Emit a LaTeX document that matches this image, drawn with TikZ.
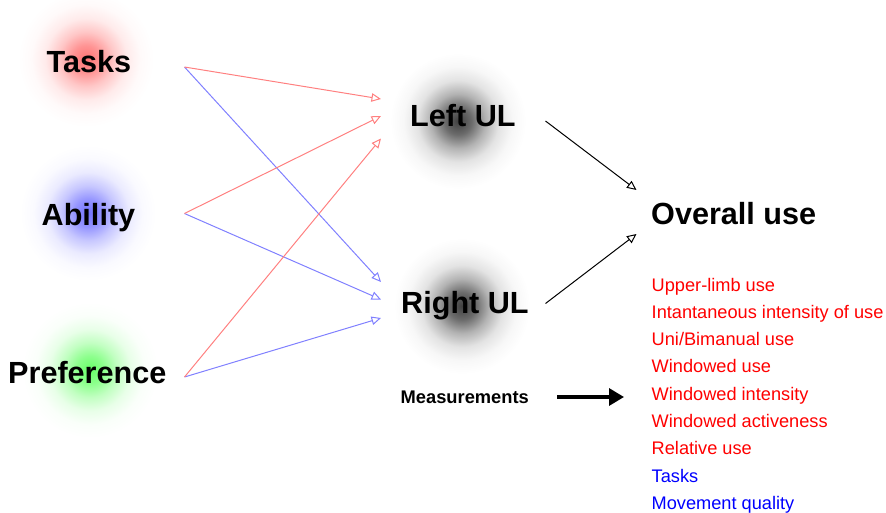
\documentclass[tikz,border=0pt]{standalone}
\usepackage{fontspec}
\setmainfont{Liberation Sans}
\usetikzlibrary{arrows.meta}
\pgfdeclareradialshading{glowred}{\pgfpoint{0bp}{0bp}}{color(0bp)=(red!55!white); color(5bp)=(red!42!white); color(10bp)=(red!22!white); color(15bp)=(red!8!white); color(20bp)=(red!2!white); color(25bp)=(white); color(50bp)=(white)}
\pgfdeclareradialshading{glowblue}{\pgfpoint{0bp}{0bp}}{color(0bp)=(blue!55!white); color(5bp)=(blue!42!white); color(10bp)=(blue!22!white); color(15bp)=(blue!8!white); color(20bp)=(blue!2!white); color(25bp)=(white); color(50bp)=(white)}
\pgfdeclareradialshading{glowgreen}{\pgfpoint{0bp}{0bp}}{color(0bp)=(green!60!white); color(5bp)=(green!45!white); color(10bp)=(green!24!white); color(15bp)=(green!9!white); color(20bp)=(green!2!white); color(25bp)=(white); color(50bp)=(white)}
\pgfdeclareradialshading{glowgray}{\pgfpoint{0bp}{0bp}}{color(0bp)=(black!75!white); color(5bp)=(black!58!white); color(10bp)=(black!30!white); color(15bp)=(black!11!white); color(20bp)=(black!3!white); color(25bp)=(white); color(50bp)=(white)}
\definecolor{linkred}{RGB}{255,128,128}
\definecolor{linkblue}{RGB}{128,128,255}
\definecolor{txtred}{RGB}{255,0,0}
\definecolor{txtblue}{RGB}{0,0,255}
\tikzset{
  big/.style={anchor=base west, inner sep=0pt, font=\fontsize{30.6}{36}\selectfont\bfseries},
  meas/.style={anchor=base west, inner sep=0pt, font=\fontsize{18.3}{22}\selectfont\bfseries},
  item/.style={anchor=base west, inner sep=0pt, font=\fontsize{18.2}{22}\selectfont},
  link/.style={line width=1pt, -{Triangle[open, length=9.5pt, width=8.5pt]}},
  redlink/.style={link, draw=linkred},
  bluelink/.style={link, draw=linkblue},
  blacklink/.style={link, draw=black},
  bigarrow/.style={line width=3.3pt, -{Triangle[length=15pt, width=17pt]}}
}
\begin{document}
\begin{tikzpicture}[x=1pt, y=-1pt]
\useasboundingbox (0,0) rectangle (886,512);
% glows
\path[shading=glowred] (86,59) circle (68);
\path[shading=glowblue] (88,213) circle (68);
\path[shading=glowgreen] (90,370) circle (68);
\path[shading=glowgray] (458,121) circle (68);
\path[shading=glowgray] (462,306) circle (68);
% labels
\node[big] (tasks) at (46.5,72) {Tasks};
\node[big] (ability) at (41.5,225) {Ability};
\node[big] (pref) at (8,383) {Preference};
\node[big] (left) at (410,126) {Left UL};
\node[big] (right) at (401,313) {Right UL};
\node[big] (overall) at (651,224) {Overall use};
\node[meas] (meas) at (400.5,403) {Measurements};
% list
\node[item, text=txtred] (m1) at (651.5,291) {Upper-limb use};
\node[item, text=txtred] (m2) at (651.5,318.3) {Intantaneous intensity of use};
\node[item, text=txtred] (m3) at (651.5,345.6) {Uni/Bimanual use};
\node[item, text=txtred] (m4) at (651.5,372.9) {Windowed use};
\node[item, text=txtred] (m5) at (651.5,400.2) {Windowed intensity};
\node[item, text=txtred] (m6) at (651.5,427.5) {Windowed activeness};
\node[item, text=txtred] (m7) at (651.5,454.8) {Relative use};
\node[item, text=txtblue] (m8) at (651.5,482.1) {Tasks};
\node[item, text=txtblue] (m9) at (651.5,509.4) {Movement quality};
% connector ends
\coordinate (tasks-out) at (184.5,67);
\coordinate (ability-out) at (184.5,213.5);
\coordinate (pref-out) at (184.5,377);
\coordinate (left-in1) at (381,99);
\coordinate (left-in2) at (381,116);
\coordinate (left-in3) at (381,138.5);
\coordinate (right-in1) at (381,282);
\coordinate (right-in2) at (381,299.5);
\coordinate (right-in3) at (381,318);
\coordinate (left-out) at (545.5,121);
\coordinate (right-out) at (545.5,303.5);
\coordinate (overall-in1) at (636.5,190);
\coordinate (overall-in2) at (636.5,234);
\coordinate (meas-out) at (557,397);
\coordinate (meas-in) at (624,397);
% connectors
\draw[bluelink] (tasks-out) -- (right-in1);
\draw[bluelink] (ability-out) -- (right-in2);
\draw[bluelink] (pref-out) -- (right-in3);
\draw[redlink] (tasks-out) -- (left-in1);
\draw[redlink] (ability-out) -- (left-in2);
\draw[redlink] (pref-out) -- (left-in3);
\draw[blacklink] (left-out) -- (overall-in1);
\draw[blacklink] (right-out) -- (overall-in2);
\draw[bigarrow] (meas-out) -- (meas-in);
\end{tikzpicture}
\end{document}
